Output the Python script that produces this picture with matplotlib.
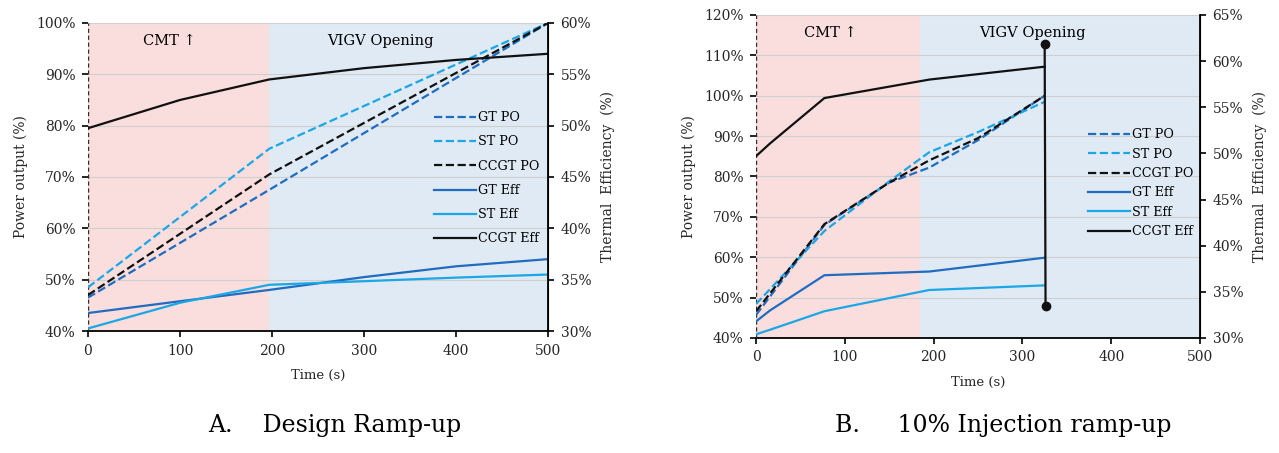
import matplotlib.pyplot as plt
from matplotlib.ticker import PercentFormatter

plt.rcParams['font.family'] = ['DejaVu Serif']

# ---------------------------------------------------------------
# Chart A - Design ramp-up
# ---------------------------------------------------------------
A_CMT_END = 197
A_T_PO = [0, 197, 500]
A_GT_PO = [46.5, 67.5, 100]
A_ST_PO = [48.5, 75.5, 100]
A_CCGT_PO = [47.0, 70.5, 100]

A_T_EFF = [0, 100, 197, 300, 400, 500]
A_GT_EFF = [31.75, 32.9, 34.0, 35.25, 36.3, 37.0]
A_ST_EFF = [30.25, 32.75, 34.5, 34.85, 35.2, 35.5]
A_CCGT_EFF = [49.75, 52.5, 54.5, 55.6, 56.4, 57.0]

# ---------------------------------------------------------------
# Chart B - 10% injection ramp-up
# ---------------------------------------------------------------
B_CMT_END = 185
B_T_PO = [0, 77, 150, 195, 250, 325]
B_GT_PO = [45.7, 68.0, 78.5, 82.2, 89.0, 100.0]
B_ST_PO = [48.4, 66.5, 78.8, 86.0, 91.0, 98.5]
B_CCGT_PO = [46.6, 68.2, 78.5, 84.0, 89.5, 100.0]

B_T_EFF = [0, 16, 77, 195, 325]
B_GT_EFF = [31.8, 33.0, 36.8, 37.2, 38.7]
B_ST_EFF = [30.4, 30.9, 32.9, 35.2, 35.7]
B_CCGT_EFF = [49.7, 51.1, 56.0, 58.0, 59.4]

B_VLINE_T = [325, 326]
B_VLINE_PO = [112.8, 48.0]

GT_COLOR = '#1f6cc0'
ST_COLOR = '#1ba6e6'
CCGT_COLOR = '#111111'
TEXT_COLOR = '#262626'
PINK = '#f9dedd'
BLUE = '#dfeaf4'


def draw_panel(fig, rect, cmt_end, po_lim, eff_lim, t_po, gt_po, st_po, ccgt_po,
               t_eff, gt_eff, st_eff, ccgt_eff, legend_anchor, spacing, vline=None):
    ax = fig.add_axes(rect)
    ax2 = ax.twinx()
    ax.set_xlim(0, 500)
    ax.set_ylim(*po_lim)
    ax2.set_ylim(*eff_lim)

    ax.axvspan(0, cmt_end, color=PINK, zorder=0, lw=0)
    ax.axvspan(cmt_end, 500, color=BLUE, zorder=0, lw=0)
    ax.yaxis.grid(True, color='#cfcfcf', lw=0.8)
    ax.set_axisbelow(True)
    ax.axvline(0, color='#3a2a2a', ls=(0, (3, 2)), lw=1.0, zorder=3)

    top = po_lim[1] - (po_lim[1] - po_lim[0]) * 0.035
    ax.text(cmt_end * 0.45, top, 'CMT \u2191', ha='center', va='top', fontsize=10.5)
    ax.text(cmt_end + (500 - cmt_end) * 0.4, top, 'VIGV Opening',
            ha='center', va='top', fontsize=10.5)

    h1, = ax2.plot(t_po, gt_po, color=GT_COLOR, ls='--', lw=1.6, transform=ax.transData)
    h2, = ax2.plot(t_po, st_po, color=ST_COLOR, ls='--', lw=1.6, transform=ax.transData)
    h3, = ax2.plot(t_po, ccgt_po, color=CCGT_COLOR, ls='--', lw=1.6, transform=ax.transData)
    h4, = ax2.plot(t_eff, gt_eff, color=GT_COLOR, lw=1.6)
    h5, = ax2.plot(t_eff, st_eff, color=ST_COLOR, lw=1.6)
    h6, = ax2.plot(t_eff, ccgt_eff, color=CCGT_COLOR, lw=1.6)
    if vline is not None:
        ax2.plot(vline[0], vline[1], color=CCGT_COLOR, lw=1.6, marker='o', ms=6,
                 transform=ax.transData)

    ax2.legend([h1, h2, h3, h4, h5, h6],
               ['GT PO', 'ST PO', 'CCGT PO', 'GT Eff', 'ST Eff', 'CCGT Eff'],
               loc='upper left', bbox_to_anchor=legend_anchor, frameon=False,
               fontsize=9.2, handlelength=3.3, handletextpad=0.2, labelspacing=spacing,
               borderaxespad=0)

    ax.yaxis.set_major_formatter(PercentFormatter(decimals=0))
    ax2.yaxis.set_major_formatter(PercentFormatter(decimals=0))
    ax.set_xticks(range(0, 501, 100))
    for a in (ax, ax2):
        a.spines['top'].set_visible(False)
        a.spines['left'].set_visible(False)
        a.tick_params(labelsize=10, length=4, width=1.2, pad=5, labelcolor=TEXT_COLOR)
    ax2.spines['right'].set_linewidth(1.3)
    ax.spines['bottom'].set_linewidth(1.3)
    ax2.spines['bottom'].set_visible(False)
    ax.set_xlabel('Time (s)', fontsize=9.5, labelpad=8, color=TEXT_COLOR)
    ax.set_ylabel('Power output (%)', fontsize=10, labelpad=6, color=TEXT_COLOR)
    ax2.set_ylabel('Thermal  Efficiency  (%)', fontsize=10, labelpad=7, color=TEXT_COLOR)
    return ax, ax2


fig = plt.figure(figsize=(12.79, 4.53), dpi=100)

draw_panel(fig, [0.0688, 0.2693, 0.3597, 0.680], A_CMT_END, (40, 100), (30, 60),
           A_T_PO, A_GT_PO, A_ST_PO, A_CCGT_PO, A_T_EFF, A_GT_EFF, A_ST_EFF, A_CCGT_EFF,
           legend_anchor=(0.74, 0.73), spacing=0.88)

draw_panel(fig, [0.5911, 0.2539, 0.3472, 0.713], B_CMT_END, (40, 120), (30, 65),
           B_T_PO, B_GT_PO, B_ST_PO, B_CCGT_PO, B_T_EFF, B_GT_EFF, B_ST_EFF, B_CCGT_EFF,
           legend_anchor=(0.735, 0.665), spacing=0.5, vline=(B_VLINE_T, B_VLINE_PO))

fig.text(0.163, 0.035, 'A.    Design Ramp-up', fontsize=17, ha='left', va='bottom')
fig.text(0.653, 0.035, 'B.     10% Injection ramp-up', fontsize=17, ha='left', va='bottom')

fig.savefig('out.png', dpi=100)
